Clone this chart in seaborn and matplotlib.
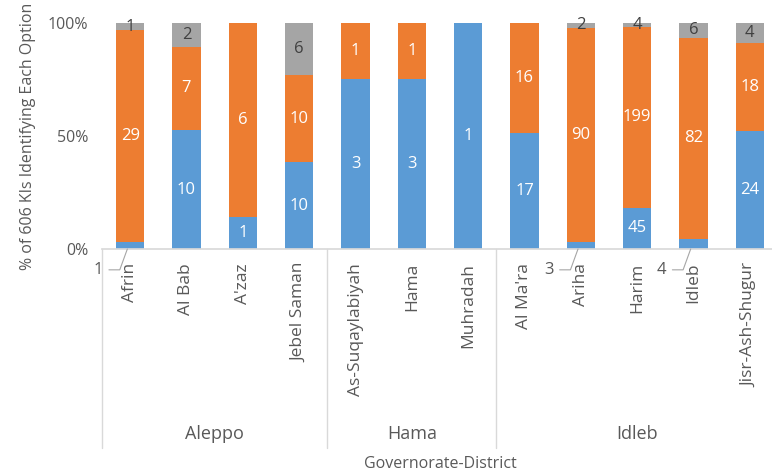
import matplotlib
matplotlib.use("Agg")
import matplotlib.pyplot as plt
import matplotlib.transforms as mtransforms
import numpy as np
import pandas as pd
import seaborn as sns

districts = ["Afrin", "Al Bab", "A'zaz", "Jebel Saman", "As-Suqaylabiyah", "Hama",
             "Muhradah", "Al Ma'ra", "Ariha", "Harim", "Idleb", "Jisr-Ash-Shugur"]
governorates = ["Aleppo", "Hama", "Idleb"]
gov_sizes = [4, 3, 5]
blue_n = [1, 10, 1, 10, 3, 3, 1, 17, 3, 45, 4, 24]
orange_n = [29, 7, 6, 10, 1, 1, 0, 16, 90, 199, 82, 18]
gray_n = [1, 2, 0, 6, 0, 0, 0, 0, 2, 4, 6, 4]
outside_labels = ["Afrin", "Ariha", "Idleb"]  # blue labels pulled out with leader lines

BLUE, ORANGE, GRAY = "#5B9BD5", "#ED7D31", "#A5A5A5"
TXT = "#595959"

sns.set_theme(style="white")
plt.rcParams["font.family"] = ["Open Sans", "DejaVu Sans"]

df = pd.DataFrame({"district": districts, "blue": blue_n, "orange": orange_n, "gray": gray_n})
df["total"] = df[["blue", "orange", "gray"]].sum(axis=1)
df["b"] = df["blue"] / df["total"]
df["bo"] = (df["blue"] + df["orange"]) / df["total"]
df["all"] = 1.0

fig = plt.figure(figsize=(7.72, 4.73), dpi=100)
ax = fig.add_axes([102 / 772, 224 / 473, 676 / 772, 226 / 473])

for col, color in [("all", GRAY), ("bo", ORANGE), ("b", BLUE)]:
    sns.barplot(data=df, x="district", y=col, color=color, width=0.5,
                saturation=1, ax=ax, linewidth=0)

ax.set_xlim(-0.5, len(districts) - 0.5)
ax.set_ylim(0, 1)
ax.set_yticks([0, 0.5, 1])
ax.set_yticklabels(["0%", "50%", "100%"], color=TXT, fontsize=11.5)
ax.tick_params(axis="y", length=0, pad=10)
ax.tick_params(axis="x", length=0, pad=10)
ax.set_xticks(range(len(districts)))
ax.set_xticklabels(districts, rotation=90, color=TXT, fontsize=12.5, va="top")
ax.set_xlabel("")
ax.set_ylabel("% of 606 KIs Identifying Each Option", color=TXT, fontsize=11.5, labelpad=8)
for s in ["top", "right", "left"]:
    ax.spines[s].set_visible(False)
ax.spines["bottom"].set_color("#D9D9D9")

# data labels
for i, row in df.iterrows():
    segs = [(0, row["b"], row["blue"], "white"),
            (row["b"], row["bo"], row["orange"], "white"),
            (row["bo"], 1.0, row["gray"], "#404040")]
    for k, (lo, hi, n, c) in enumerate(segs):
        if n == 0:
            continue
        if k == 0 and row["district"] in outside_labels:
            ax.annotate(str(n), xy=(i - 0.05, 0), xytext=(-21, -15),
                        textcoords="offset points", ha="center", va="center",
                        fontsize=12, color=TXT, annotation_clip=False,
                        arrowprops=dict(arrowstyle="-", color="#A6A6A6", lw=0.8,
                                        connectionstyle="angle,angleA=0,angleB=70,rad=0",
                                        shrinkA=2, shrinkB=0))
            continue
        ax.text(i, (lo + hi) / 2, str(n), ha="center", va="center", fontsize=12, color=c)

# multi-level category axis
trans = mtransforms.blended_transform_factory(ax.transData, ax.transAxes)
edges = np.concatenate([[0], np.cumsum(gov_sizes)]) - 0.5
for e in edges:
    ax.plot([e, e], [0, -0.88], color="#D9D9D9", lw=1, transform=trans, clip_on=False)
for g, lo, hi in zip(governorates, edges[:-1], edges[1:]):
    ax.text((lo + hi) / 2, -0.82, g, transform=trans, ha="center", va="center",
            fontsize=13, color=TXT)
ax.text(0.5, -0.952, "Governorate-District", transform=ax.transAxes, ha="center",
        va="center", fontsize=11.5, color=TXT)

fig.savefig("out.png", dpi=100)
